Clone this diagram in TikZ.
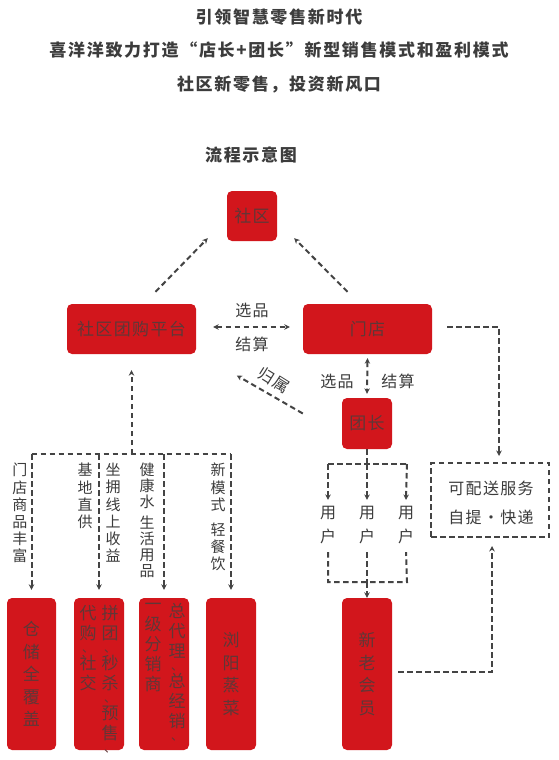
\documentclass[tikz,border=0pt]{standalone}
\usepackage{fontspec}
\setmainfont{Noto Sans CJK SC}
\newfontfamily\spaced[LetterSpace=8]{Noto Sans CJK SC}
\newfontfamily\tspaced[LetterSpace=10]{Noto Sans CJK SC}
\newcommand\dunhao{{\fontsize{12}{12}\selectfont 、}}
\usetikzlibrary{arrows.meta,calc}
\definecolor{boxred}{RGB}{210,22,28}
\definecolor{boxtxt}{RGB}{95,55,55}
\definecolor{lgray}{RGB}{68,68,68}
\definecolor{txtgray}{RGB}{60,60,60}
\begin{document}
\begin{tikzpicture}[x=1pt,y=-1pt,
  title/.style={font=\tspaced\fontsize{17}{20}\selectfont\bfseries, text=txtgray, inner sep=0pt},
  redbox/.style={fill=boxred, rounded corners=5pt, inner sep=0pt, text=boxtxt, font=\spaced\fontsize{17}{20}\selectfont},
  vlab/.style={align=center, inner sep=0pt, anchor=north, text=txtgray, font=\fontsize{15}{17.2}\selectfont},
  boxlab/.style={align=center, inner sep=0pt, text=boxtxt, font=\fontsize{17}{22.5}\selectfont},
  boxcol/.style={align=center, inner sep=0pt, anchor=north, text=boxtxt, font=\fontsize{17}{20}\selectfont},
  lab/.style={inner sep=0pt, text=txtgray, font=\spaced\fontsize{16}{19}\selectfont},
  dl/.style={draw=lgray, line width=2pt, dash pattern=on 5.5pt off 3.5pt},
  tip/.style={-{Stealth[length=5.5pt,width=5.5pt]}},
  tips/.style={{Stealth[length=5.5pt,width=5.5pt]}-{Stealth[length=5.5pt,width=5.5pt]}}
]
\useasboundingbox (0,0) rectangle (558,760);
\fill[white] (0,0) rectangle (558,760);

% titles
\node[title] (t1) at (279,17) {引领智慧零售新时代};
\node[title] (t2) at (279,50) {喜洋洋致力打造“店长+团长”新型销售模式和盈利模式};
\node[title] (t3) at (279,84) {社区新零售，投资新风口};
\node[title] (t4) at (251,155) {流程示意图};

% main red boxes
\node[redbox, minimum width=50pt, minimum height=50pt] (she) at (252,216) {社区};
\node[redbox, minimum width=129pt, minimum height=50pt] (plat) at (131.5,329) {社区团购平台};
\node[redbox, minimum width=129pt, minimum height=50pt] (store) at (367.5,329) {门店};
\node[redbox, minimum width=50pt, minimum height=51pt] (tz) at (367,423.5) {团长};
\node[redbox, minimum width=50pt, minimum height=152pt] (member) at (367,674) {};
\node[boxlab] (membert) at (member.center) {新\\老\\会\\员};

% bottom boxes
\node[redbox, minimum width=49pt, minimum height=152pt] (b1) at (31.5,674) {};
\node[redbox, minimum width=50pt, minimum height=152pt] (b2) at (99,674) {};
\node[redbox, minimum width=50pt, minimum height=152pt] (b3) at (164,674) {};
\node[redbox, minimum width=50pt, minimum height=152pt] (b4) at (231,674) {};
\node[boxlab] (b1t) at (b1.center) {仓\\储\\全\\覆\\盖};
\node[boxcol] (b2r) at (110,605) {拼\\团\\[-7pt]\dunhao\\[-3pt]秒\\杀\\[-7pt]\dunhao\\[-3pt]预\\售\\[-7pt]\dunhao};
\node[boxcol] (b2l) at (88,605) {代\\购\\[-7pt]\dunhao\\[-3pt]社\\交};
\node[boxcol] (b3r) at (177,603) {总\\代\\理\\[-7pt]\dunhao\\[-3pt]总\\经\\销\\[-7pt]\dunhao};
\node[boxcol] (b3l) at (153,603) {一\\级\\分\\销\\商};
\node[boxlab] (b4t) at (b4.center) {浏\\阳\\蒸\\菜};

% delivery box
\node[dl, minimum width=118pt, minimum height=74pt, inner sep=0pt] (deliv) at (490,500) {};
\node[lab] (d1) at (491,488) {可配送服务};
\node[lab] (d2) at (491,517) {自提・快递};

% top triangle
\draw[dl, tip] ($(plat.north)+(24,-12)$) -- ($(she.south west)+(-19,-3)$);
\draw[dl, tip] ($(store.north)+(-20,-12)$) -- ($(she.south east)+(17,-3)$);
\draw[dl, tips] ($(plat.east)+(17,-2)$) -- ($(store.west)+(-13,-2)$);
\node[lab] (xp1) at (252,310) {选品};
\node[lab] (js1) at (252,344) {结算};

% guishu
\draw[dl, tip] ($(tz.west)+(-39,-10)$) -- ($(tz.west)+(-105,-48)$);
\node[lab, rotate=-32] (gs) at (274,380) {归属};

% store - tuanzhang
\draw[dl, tips] ($(store.south)+(0,4)$) -- ($(tz.north)+(0,-4)$);
\node[lab] (xp2) at (337,381) {选品};
\node[lab] (js2) at (398,381) {结算};

% store -> delivery
\draw[dl, tip] ($(store.east)+(15,-2)$) -| ($(deliv.north)+(9,-6)$);
% member -> delivery
\draw[dl, tip] ($(member.east)+(6,-2)$) -| ($(deliv.south)+(2,8)$);

% users
\node[vlab, anchor=center, font=\fontsize{16}{24}\selectfont] (u1) at (328,525) {用\\户};
\node[vlab, anchor=center, font=\fontsize{16}{24}\selectfont] (u2) at (367,525) {用\\户};
\node[vlab, anchor=center, font=\fontsize{16}{24}\selectfont] (u3) at (406,525) {用\\户};
\coordinate (ul) at (328,464);
\coordinate (ur) at (407,464);
\draw[dl] (tz.south) -- (tz.south |- ul);
\draw[dl] (ul) -- (ur);
\draw[dl, tip] (ul) -- ($(u1.north)+(0,-6)$);
\draw[dl, tip] (tz.south |- ul) -- ($(u2.north)+(0,-6)$);
\draw[dl, tip] (ur) -- ($(u3.north)+(0,-6)$);
\coordinate (bl) at (328,582);
\coordinate (br) at (407,582);
\draw[dl] ($(u1.south)+(0,8)$) -- (bl) -- (br) -- ($(u3.south)+(0,8)$);
\draw[dl] ($(u2.south)+(0,8)$) -- (u2.south |- bl);
\draw[dl, tip] (u2.south |- bl) -- (member.north);

% platform tree
\coordinate (pj) at (131.5,454);
\draw[dl, tip] (plat.south |- pj) -- ($(plat.south)+(0,16)$);
\draw[dl] (b1.north |- pj) -- (b4.north |- pj);
\draw[dl, tip] (b1.north |- pj) -- ($(b1.north)+(0,-8)$);
\draw[dl, tip] (b2.north |- pj) -- ($(b2.north)+(0,-8)$);
\draw[dl, tip] (b3.north |- pj) -- ($(b3.north)+(0,-8)$);
\draw[dl, tip] (b4.north |- pj) -- ($(b4.north)+(0,-8)$);

\node[vlab] (l1) at (20,463) {门\\店\\商\\品\\丰\\富};
\node[vlab] (l2) at (85,463) {基\\地\\直\\供};
\node[vlab] (l3) at (113,463) {坐\\拥\\线\\上\\收\\益};
\node[vlab, font=\fontsize{15}{16}\selectfont] (l4) at (147,463) {健\\康\\水\\[5pt]生\\活\\用\\品};
\node[vlab] (l5) at (218,463) {新\\模\\式\\[8pt]轻\\餐\\饮};
\end{tikzpicture}
\end{document}
